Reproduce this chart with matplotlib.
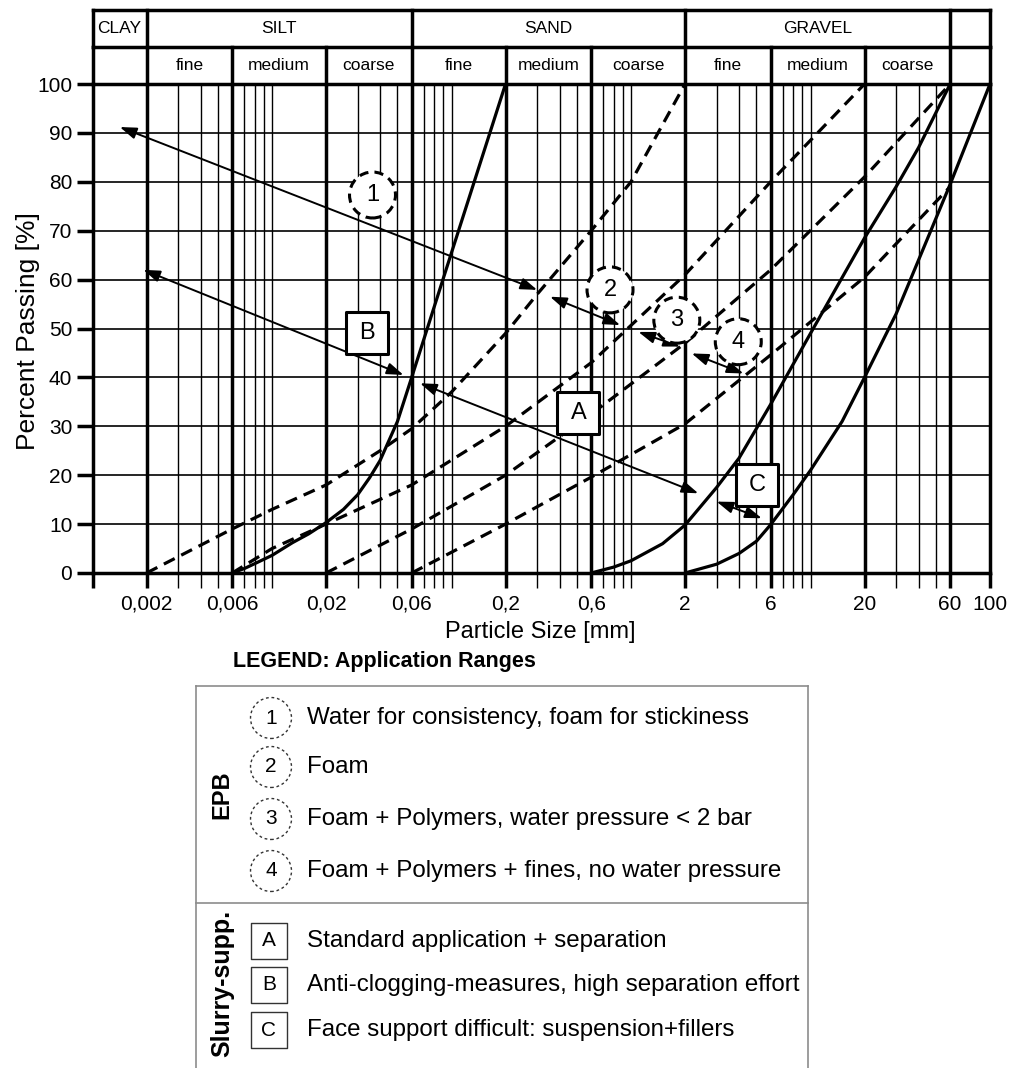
import matplotlib.pyplot as plt
from matplotlib.ticker import FixedLocator, NullFormatter

plt.rcParams['font.family'] = ['Liberation Sans', 'DejaVu Sans']

W, H = 1010, 1068

# grain size axis (mm)
x_min, x_max = 0.001, 100
class_bounds = [0.002, 0.006, 0.02, 0.06, 0.2, 0.6, 2, 6, 20, 60]
class_labels = ['0,002', '0,006', '0,02', '0,06', '0,2', '0,6', '2', '6', '20', '60']
minor_bounds = [0.003, 0.004, 0.005, 0.007, 0.008, 0.009, 0.01,
                0.03, 0.04, 0.05, 0.07, 0.08, 0.09, 0.1,
                0.3, 0.4, 0.5, 0.7, 0.8, 0.9, 1,
                3, 4, 5, 7, 8, 9, 10, 30, 40, 50]
y_ticks = list(range(0, 101, 10))

# header table
main_names = ['CLAY', 'SILT', 'SAND', 'GRAVEL', '']
main_edges = [0.001, 0.002, 0.06, 2, 60, 100]
sub_names = ['', 'fine', 'medium', 'coarse', 'fine', 'medium', 'coarse',
             'fine', 'medium', 'coarse', '']
sub_edges = [0.001] + class_bounds + [100]

# grading curves (size mm, % passing)
silt_x = [0.006, 0.007, 0.008, 0.01, 0.013, 0.016, 0.02, 0.025, 0.03, 0.035,
          0.04, 0.05, 0.06, 0.1, 0.2]
silt_y = [0, 0.9, 1.9, 3.6, 6.2, 8.0, 10.3, 13, 16, 19.5, 23, 31, 40, 65.5, 100]
gravel1_x = [0.6, 0.8, 1, 1.5, 2, 3, 4, 6, 10, 20, 30, 40, 60]
gravel1_y = [0, 1.2, 2.5, 6, 9.8, 17.5, 23.5, 34.5, 49, 68.5, 79, 87, 100]
gravel2_x = [2, 3, 4, 5, 6, 8, 10, 15, 20, 30, 40, 60, 100]
gravel2_y = [0, 1.8, 4, 6.5, 9.9, 16, 21, 31, 40, 53, 64, 79.5, 100]

bound1_x = [0.002, 0.006, 0.01, 0.02, 0.04, 0.06, 0.1, 0.2, 0.3, 0.6, 1, 2]
bound1_y = [0, 9, 13, 18, 25, 29.5, 37, 49, 57, 70, 80, 100]
bound2_x = [0.006, 0.01, 0.02, 0.06, 0.2, 0.6, 2, 6, 20]
bound2_y = [0, 5, 10, 18, 30, 43, 61, 80, 100]
bound3_x = [0.02, 0.06, 0.2, 0.6, 2, 6, 20, 60]
bound3_y = [0, 9, 20, 32.5, 47, 62, 81, 100]
bound4_x = [0.06, 0.2, 0.6, 2, 6, 20, 60]
bound4_y = [0, 10, 19.6, 30.5, 44.6, 60.5, 79]

# application range arrows and their labels
epb_ids = ['1', '2', '3', '4']
epb_start = [(0.00142, 91.2), (0.354, 56.5), (1.10, 49.3), (2.18, 44.9)]
epb_end = [(0.30, 57.9), (0.87, 50.7), (1.875, 46.3), (4.23, 40.8)]
epb_pos = [(0.0363, 77.3), (0.764, 57.9), (1.80, 51.7), (3.96, 47.3)]
slurry_ids = ['A', 'B', 'C']
slurry_start = [(0.0668, 38.8), (0.00192, 62), (3.0, 14.6)]
slurry_end = [(2.37, 16.3), (0.054, 40.5), (5.35, 11.2)]
slurry_pos = [(0.509, 32.7), (0.0338, 49.1), (5.06, 18.0)]

epb_text = ['Water for consistency, foam for stickiness', 'Foam',
            'Foam + Polymers, water pressure < 2 bar',
            'Foam + Polymers + fines, no water pressure']
slurry_text = ['Standard application + separation',
               'Anti-clogging-measures, high separation effort',
               'Face support difficult: suspension+fillers']

fig = plt.figure(figsize=(W / 100, H / 100), dpi=100)

# main chart
left, right, top, bottom = 92.5, 990, 84, 573
ax = fig.add_axes([left / W, 1 - bottom / H, (right - left) / W, (bottom - top) / H])
ax.set_xscale('log')
ax.set_xlim(x_min, x_max)
ax.set_ylim(0, 100)

thick = 2.5
for xb in class_bounds:
    ax.axvline(xb, color='black', lw=thick, zorder=1)
for xb in minor_bounds:
    ax.axvline(xb, color='black', lw=1.0, zorder=1)
for yv in y_ticks[1:-1]:
    ax.axhline(yv, color='black', lw=1.2, zorder=1)

ax.xaxis.set_major_locator(FixedLocator([x_min] + class_bounds + [x_max]))
ax.set_xticklabels([''] + class_labels + ['100'])
ax.xaxis.set_minor_locator(FixedLocator(minor_bounds))
ax.xaxis.set_minor_formatter(NullFormatter())
ax.tick_params(axis='x', which='major', length=10.5, width=thick, pad=5, labelsize=15)
ax.tick_params(axis='x', which='minor', length=10.5, width=1.0)
ax.set_yticks(y_ticks)
ax.tick_params(axis='y', length=11.5, width=1.2, pad=3, labelsize=15)
for t in ax.yaxis.get_major_ticks():
    if t.get_loc() in (0, 100):
        t.tick1line.set_markeredgewidth(thick)
for sp in ax.spines.values():
    sp.set_linewidth(thick)

solid = dict(color='black', lw=2.3, zorder=2, solid_capstyle='butt')
ax.plot(silt_x, silt_y, **solid)
ax.plot(gravel1_x, gravel1_y, **solid)
ax.plot(gravel2_x, gravel2_y, **solid)
dashed = dict(color='black', lw=2.3, zorder=2, dashes=(3.8, 2.3))
ax.plot(bound1_x, bound1_y, **dashed)
ax.plot(bound2_x, bound2_y, **dashed)
ax.plot(bound3_x, bound3_y, **dashed)
ax.plot(bound4_x, bound4_y, **dashed)

arrow = dict(arrowstyle='<|-|>,head_length=1.0,head_width=0.35', color='black',
             lw=1.4, shrinkA=0, shrinkB=0)
for s, e in zip(epb_start + slurry_start, epb_end + slurry_end):
    ax.annotate('', xy=e, xytext=s, arrowprops=arrow, zorder=3)

ax.scatter([p[0] for p in epb_pos], [p[1] for p in epb_pos], s=1096, marker='o',
           facecolors='white', edgecolors='black', linewidths=2.2,
           linestyles=(0, (3, 2)), zorder=4)
ax.scatter([p[0] for p in slurry_pos], [p[1] for p in slurry_pos], s=914, marker='s',
           facecolors='white', edgecolors='black', linewidths=2.2, zorder=4)
for lab, p in zip(epb_ids + slurry_ids, epb_pos + slurry_pos):
    ax.text(p[0], p[1], lab, ha='center', va='center', fontsize=17, zorder=5)

# soil class header
hx = fig.add_axes([left / W, 1 - top / H, (right - left) / W, (top - 10) / H])
hx.set_xscale('log')
hx.set_xlim(x_min, x_max)
hx.set_ylim(0, 2)
hx.axis('off')
hx.plot([x_min, x_max], [2, 2], color='black', lw=thick, clip_on=False)
hx.plot([x_min, x_max], [1, 1], color='black', lw=thick, clip_on=False)
for xb in main_edges:
    hx.plot([xb, xb], [1, 2], color='black', lw=thick, clip_on=False)
for xb in sub_edges:
    hx.plot([xb, xb], [0, 1], color='black', lw=thick, clip_on=False)
for name, a, b in zip(main_names, main_edges[:-1], main_edges[1:]):
    hx.text((a * b) ** 0.5, 1.5, name, ha='center', va='center', fontsize=12.5)
for name, a, b in zip(sub_names, sub_edges[:-1], sub_edges[1:]):
    hx.text((a * b) ** 0.5, 0.5, name, ha='center', va='center', fontsize=12.5)

# axis titles and legend in pixel coordinates
ov = fig.add_axes([0, 0, 1, 1])
ov.set_xlim(0, W)
ov.set_ylim(H, 0)
ov.axis('off')
ov.text(28, 331, 'Percent Passing [%]', rotation=90, ha='center', va='center', fontsize=19)
ov.text(540, 632, 'Particle Size [mm]', ha='center', va='center', fontsize=17)

ov.text(233, 662, 'LEGEND: Application Ranges', ha='left', va='center',
        fontsize=15.5, fontweight='bold')
gray = '#8c8c8c'
ov.plot([196, 808], [686, 686], color=gray, lw=1.2)
ov.plot([196, 808], [903, 903], color=gray, lw=1.2)
ov.plot([196, 196], [686, H], color=gray, lw=1.2)
ov.plot([808, 808], [686, H], color=gray, lw=1.2)
ov.text(222, 795, 'EPB', rotation=90, ha='center', va='center', fontsize=17, fontweight='bold')
ov.text(222, 983, 'Slurry-supp.', rotation=90, ha='center', va='center', fontsize=18,
        fontweight='bold')

epb_rows = [718, 767, 819, 871]
slurry_rows = [941, 985, 1030]
ov.scatter([271] * 4, epb_rows, s=870, marker='o', facecolors='white',
           edgecolors='#333333', linewidths=1.0, linestyles=(0, (2, 2)))
ov.scatter([269] * 3, slurry_rows, s=671, marker='s', facecolors='white',
           edgecolors='#333333', linewidths=1.0)
for lab, yy in zip(epb_ids, epb_rows):
    ov.text(271, yy, lab, ha='center', va='center', fontsize=15)
for lab, yy in zip(slurry_ids, slurry_rows):
    ov.text(269, yy, lab, ha='center', va='center', fontsize=15)
for txt, yy in zip(epb_text + slurry_text, epb_rows + slurry_rows):
    ov.text(307, yy, txt, ha='left', va='center', fontsize=17.4)

fig.savefig('out.png', dpi=100)
